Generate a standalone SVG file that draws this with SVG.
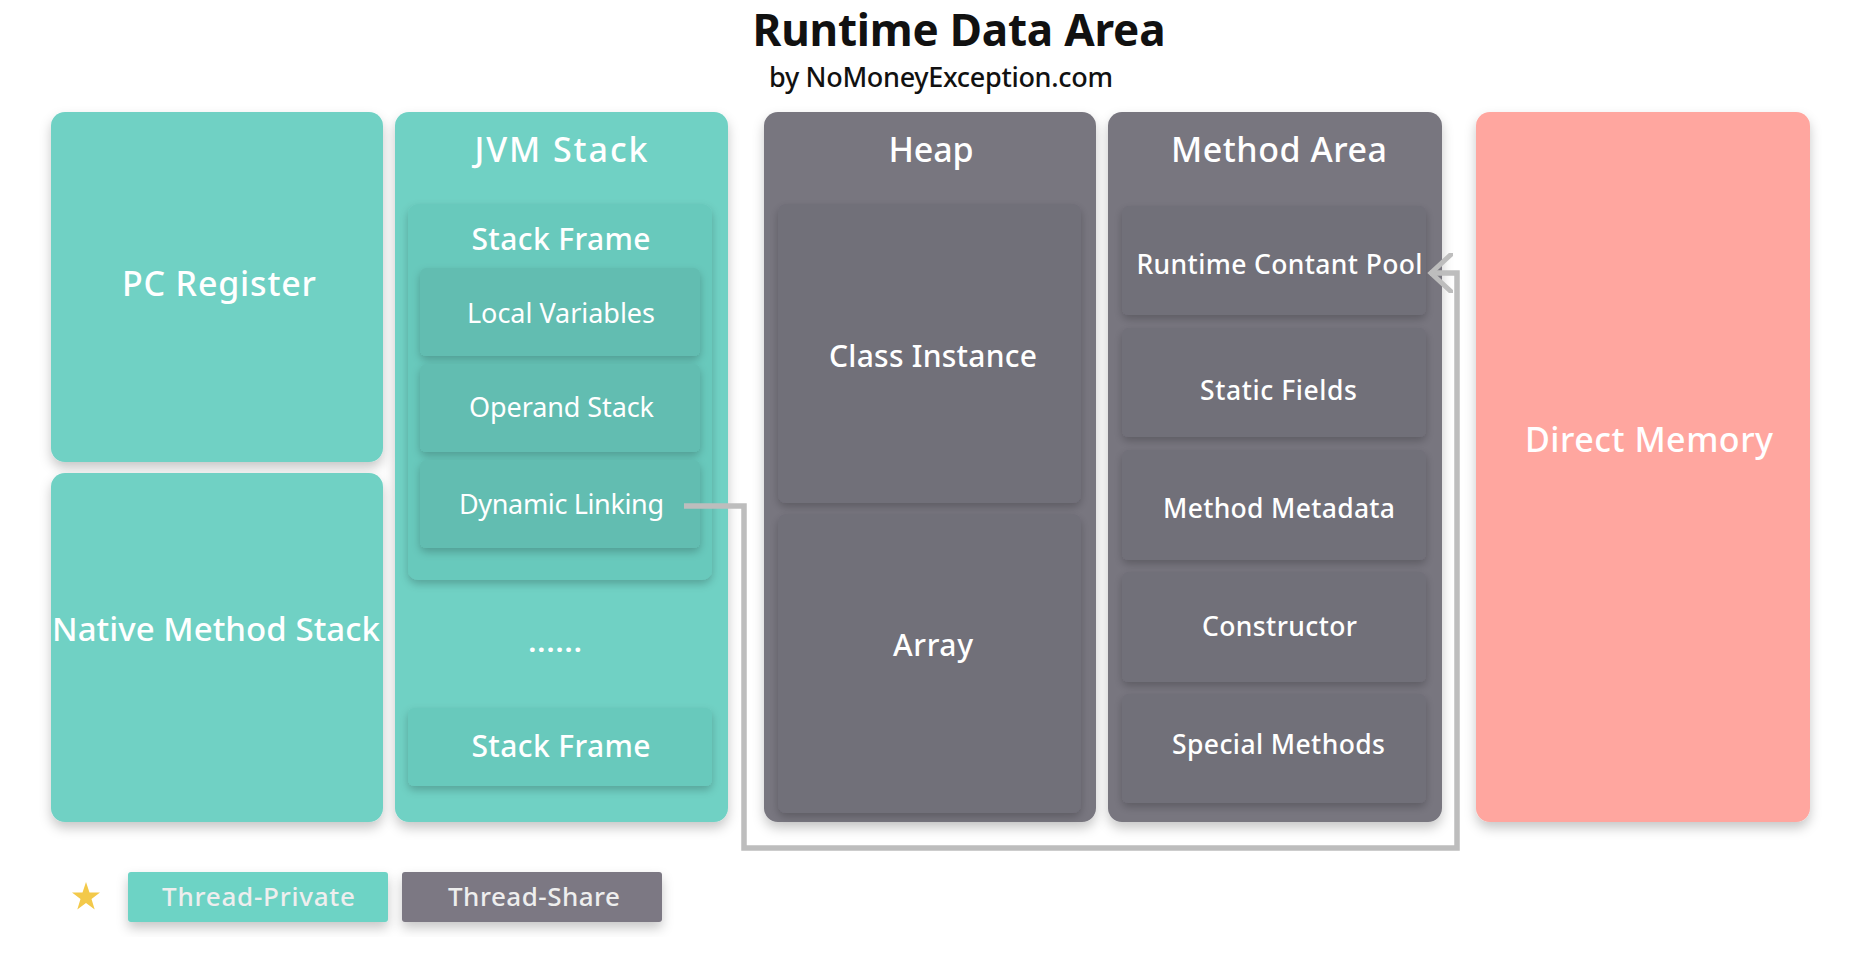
<svg xmlns="http://www.w3.org/2000/svg" width="1870" height="958" viewBox="0 0 1870 958">
<defs>
<filter id="sh" x="-20%" y="-20%" width="140%" height="150%">
<feDropShadow dx="0" dy="6" stdDeviation="6" flood-color="#000" flood-opacity="0.22"/>
</filter>
<filter id="shi" x="-20%" y="-20%" width="140%" height="150%">
<feDropShadow dx="0" dy="4" stdDeviation="4" flood-color="#000" flood-opacity="0.22"/>
</filter>
<marker id="chev" viewBox="0 0 26 40" refX="23" refY="20" markerWidth="26" markerHeight="40" markerUnits="userSpaceOnUse" orient="auto">
<path d="M2,1.5 L22,20 L2,38.5" fill="none" stroke="#bdbdbd" stroke-width="5" stroke-linecap="round" stroke-linejoin="miter"/>
</marker>
</defs>
<style>
text{font-family:"Noto Sans","Open Sans","Liberation Sans",sans-serif;fill:#fff;text-anchor:middle}
.teal{fill:#6fd1c4}
.tealf{fill:#68c9bc}
.teali{fill:#62bdb1}
.gray{fill:#78767f}
.grayi{fill:#716f79}
.pink{fill:#ffa69f}
.big{font-size:34px;font-weight:500}
.mid{font-size:30px;font-weight:500}
.sm{font-size:27px;font-weight:400}
.item{font-size:26.5px;font-weight:500}
.leg{font-size:26px;font-weight:500;fill:#eeeeee}
.conn{fill:none;stroke:#bdbdbd;stroke-width:5.5}
</style>
<rect width="1870" height="958" fill="#fff"/>
<g id="title">
<text x="959" y="46" textLength="413" style="font-size:44px;font-weight:700;fill:#111">Runtime Data Area</text>
<text x="941" y="87" textLength="344" style="font-size:27px;font-weight:500;fill:#111">by NoMoneyException.com</text>
</g>
<g id="pc-register">
<rect x="51" y="112" width="332" height="350" rx="14" class="teal" filter="url(#sh)"/>
<text x="219" y="296" class="big" textLength="194">PC Register</text>
</g>
<g id="native-method-stack">
<rect x="51" y="473" width="332" height="349" rx="14" class="teal" filter="url(#sh)"/>
<text x="216" y="641" class="big" textLength="328" style="font-size:33px">Native Method Stack</text>
</g>
<g id="jvm-stack">
<rect x="395" y="112" width="333" height="710" rx="14" class="teal" filter="url(#sh)"/>
<text x="561" y="162" class="big" textLength="173">JVM Stack</text>
<g id="stack-frame-1">
<rect x="408" y="204" width="304" height="376" rx="10" class="tealf" filter="url(#shi)"/>
<text x="561" y="250" class="mid" textLength="179">Stack Frame</text>
</g>
<g id="local-variables">
<rect x="420" y="268" width="280" height="88" rx="6" class="teali" filter="url(#shi)"/>
<text x="561" y="323" class="sm" textLength="188">Local Variables</text>
</g>
<g id="operand-stack">
<rect x="420" y="364" width="280" height="88" rx="6" class="teali" filter="url(#shi)"/>
<text x="561.5" y="417" class="sm" textLength="185">Operand Stack</text>
</g>
<g id="dynamic-linking">
<rect x="420" y="460" width="280" height="88" rx="6" class="teali" filter="url(#shi)"/>
<text x="561.5" y="514" class="sm" textLength="205">Dynamic Linking</text>
</g>
<text x="555" y="652" class="sm" textLength="53" style="font-weight:700">......</text>
<g id="stack-frame-2">
<rect x="408" y="708" width="304" height="78" rx="6" class="tealf" filter="url(#shi)"/>
<text x="561" y="757" class="mid" textLength="179">Stack Frame</text>
</g>
</g>
<g id="heap">
<rect x="764" y="112" width="332" height="710" rx="14" class="gray" filter="url(#sh)"/>
<text x="931" y="162" class="big" textLength="85">Heap</text>
<g id="class-instance">
<rect x="778" y="204" width="303" height="299" rx="8" class="grayi" filter="url(#shi)"/>
<text x="933" y="367" class="mid" textLength="208">Class Instance</text>
</g>
<g id="array">
<rect x="778" y="514" width="303" height="299" rx="8" class="grayi" filter="url(#shi)"/>
<text x="933" y="656" class="mid" textLength="80">Array</text>
</g>
</g>
<g id="method-area">
<rect x="1108" y="112" width="334" height="710" rx="14" class="gray" filter="url(#sh)"/>
<text x="1279" y="162" class="big" textLength="216">Method Area</text>
<g id="runtime-constant-pool">
<rect x="1122" y="206" width="304" height="109" rx="6" class="grayi" filter="url(#shi)"/>
<text x="1279.5" y="274" class="item" textLength="286">Runtime Contant Pool</text>
</g>
<g id="static-fields">
<rect x="1122" y="328" width="304" height="109" rx="6" class="grayi" filter="url(#shi)"/>
<text x="1278.5" y="400" class="item" textLength="157">Static Fields</text>
</g>
<g id="method-metadata">
<rect x="1122" y="450" width="304" height="110" rx="6" class="grayi" filter="url(#shi)"/>
<text x="1279" y="518" class="item" textLength="232">Method Metadata</text>
</g>
<g id="constructor">
<rect x="1122" y="572" width="304" height="110" rx="6" class="grayi" filter="url(#shi)"/>
<text x="1279.5" y="636" class="item" textLength="155">Constructor</text>
</g>
<g id="special-methods">
<rect x="1122" y="694" width="304" height="109" rx="6" class="grayi" filter="url(#shi)"/>
<text x="1278.5" y="754" class="item" textLength="213">Special Methods</text>
</g>
</g>
<g id="direct-memory">
<rect x="1476" y="112" width="334" height="710" rx="14" class="pink" filter="url(#sh)"/>
<text x="1649" y="452" class="big" textLength="248">Direct Memory</text>
</g>
<g id="connectors">
<path class="conn" d="M684,506 H744 V848 H1457 V273 H1430" marker-end="url(#chev)"/>
</g>
<g id="legend">
<polygon points="86,882 89.5,892.5 100,892.5 91.5,899 94.7,909.5 86,903 77.3,909.5 80.5,899 72,892.5 82.5,892.5" fill="#f3c94a"/>
<g id="legend-private">
<rect x="128" y="872" width="260" height="50" rx="3" fill="#6dd3c5" filter="url(#sh)"/>
<text x="258.5" y="906" class="leg" textLength="193">Thread-Private</text>
</g>
<g id="legend-share">
<rect x="402" y="872" width="260" height="50" rx="3" fill="#7b7883" filter="url(#sh)"/>
<text x="534" y="906" class="leg" textLength="172">Thread-Share</text>
</g>
</g>
</svg>
